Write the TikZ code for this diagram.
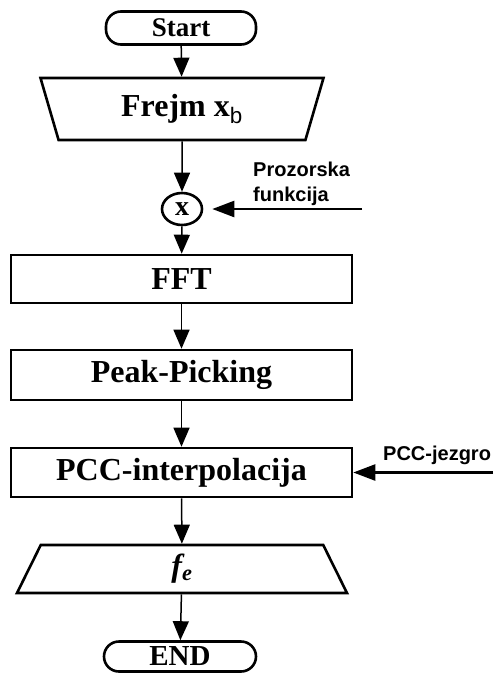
\documentclass[tikz,border=0pt]{standalone}
\usepackage{fontspec}
\setmainfont{Liberation Serif}
\setsansfont{Liberation Sans}
\usepackage{tikz}
\usetikzlibrary{arrows.meta,positioning,shapes.geometric}

\begin{document}
\begin{tikzpicture}[x=1pt, y=1pt,
    termbox/.style={draw, line width=2.6pt, rounded corners=15pt,
                    minimum width=152pt, minimum height=33pt, inner sep=0pt,
                    font=\fontsize{27}{27}\selectfont\bfseries},
    procbox/.style={draw, line width=2.6pt, minimum width=341pt, inner sep=0pt,
                    font=\fontsize{32}{32}\selectfont\bfseries},
    iobox/.style={draw, line width=2.6pt, trapezium, trapezium stretches body=true,
                  inner sep=0pt, font=\fontsize{32}{32}\selectfont\bfseries},
    sidelabel/.style={font=\fontsize{20}{25}\selectfont\sffamily\bfseries, inner sep=0pt},
    flow/.style={-{Triangle[length=19pt, width=16pt]}, line width=1.5pt},
    feed/.style={-{Triangle[length=22pt, width=16pt]}, line width=2.4pt}]
\useasboundingbox (0,0) rectangle (499,-673);
% Main chain
\node[termbox, minimum width=150pt] (start) at (181,-28) {Start};
\node[iobox, trapezium left angle=121, trapezium right angle=121,
      minimum width=283pt, minimum height=62pt] (frame) at (182,-109)
      {Frejm x\textsubscript{\normalfont\sffamily b}};
\node[draw, ellipse, line width=2.6pt, minimum width=40pt, minimum height=32pt,
      inner sep=0pt, font=\fontsize{28}{28}\selectfont\bfseries] (mult) at (182,-209) {x};
\node[procbox, minimum height=48pt] (fft) at (181.5,-279) {FFT};
\node[procbox, minimum height=50pt] (peak) at (181.5,-375) {Peak-Picking};
\node[procbox, minimum height=49pt] (pcc) at (181.5,-472.5) {PCC-interpolacija};
\node[iobox, trapezium left angle=51, trapezium right angle=51,
      minimum width=330pt, minimum height=48pt] (fe) at (182,-569)
      {\itshape f\textsubscript{e}};
\node[termbox, minimum height=30pt, font=\fontsize{29}{29}\selectfont\bfseries]
      (end) at (180,-656.5) {END};
\draw[flow] (start) -- (frame);
\draw[flow] (frame) -- (mult);
\draw[flow] (mult) -- (fft);
\draw[flow] (fft) -- (peak);
\draw[flow] (peak) -- (pcc);
\draw[flow] (pcc) -- (fe);
\draw[flow] (fe) -- (end);
% Side inputs
\node[sidelabel, align=left, anchor=west] (window) at (253,-184) {Prozorska\\funkcija};
\coordinate (windowin) at (362,-209);
\draw[feed, shorten >=9pt] (windowin) -- (mult);
\node[sidelabel, anchor=west] (kernel) at (383,-455) {PCC-jezgro};
\coordinate (kernelin) at (493,-472.5);
\draw[feed] (kernelin) -- (pcc);
\end{tikzpicture}
\end{document}
